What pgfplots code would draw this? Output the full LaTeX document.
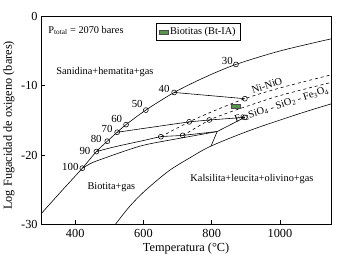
\documentclass[border=0pt]{standalone}
\usepackage{fontspec}
\setmainfont{Liberation Serif}
\usepackage{pgfplots}
\pgfplotsset{compat=1.18}
\definecolor{btgreen}{RGB}{88,150,78}
\begin{document}
\begin{tikzpicture}
\begin{axis}[
  name=ax,
  scale only axis, width=295pt, height=211pt,
  xmin=300, xmax=1150, ymin=-30, ymax=0,
  xtick={400,600,800,1000}, ytick={-30,-20,-10,0},
  tick align=inside, xtick pos=bottom, ytick pos=left,
  major tick length=4pt,
  axis line style={line width=1.1pt},
  tick style={line width=0.8pt, black},
  /pgf/number format/assume math mode=true,
  /pgf/number format/set thousands separator={},
  ticklabel style={font=\fontsize{12.5}{14}\selectfont},
  xticklabel style={yshift=-1.5pt},
  label style={font=\fontsize{12.5}{14}\selectfont},
  xlabel={Temperatura (°C)},
  ylabel={Log Fugacidad de oxigeno (bares)},
  xlabel style={yshift=1pt},
  ylabel style={yshift=0pt, xshift=-5pt},
  legend style={at={(0.396,0.970)}, anchor=north west, draw=black, line width=0.6pt,
    font=\fontsize{10.5}{12}\selectfont, inner sep=2.5pt},
  legend image code/.code={\draw[#1] (0pt,-1.8pt) rectangle (9pt,1.8pt);},
  every axis plot/.append style={line width=0.6pt, black},
]
% green biotite box
\addplot[draw=black!70, fill=btgreen, line width=0.5pt] coordinates {(857,-13.2) (883,-13.2) (883,-12.6) (857,-12.6)} -- cycle;
\addlegendentry{Biotitas (Bt-IA)}

% upper boundary (biotite composition curve)
\addplot[smooth, tension=0.5, forget plot] coordinates {
 (300,-28.5) (360,-25.2) (421,-21.9) (462,-19.5) (494,-18.0) (523,-16.7) (549,-15.6)
 (607,-13.5) (690,-10.95) (780,-8.75) (871,-6.9) (1000,-4.95) (1150,-3.2)};

% Kalsilita boundary
\addplot[smooth, tension=0.5, forget plot] coordinates {
 (518,-30) (560,-27.4) (606,-25.1) (674,-22.3) (736,-20.4) (798,-18.7) (914,-16.4) (1058,-14.0) (1150,-12.6)};

% 40 line
\addplot[forget plot] coordinates {(690,-10.95) (897,-11.85)};
% 70 line
\addplot[forget plot] coordinates {(523,-16.7) (734,-15.2) (793,-14.93) (897,-14.55)};
% 90 line
\addplot[smooth, tension=0.4, forget plot] coordinates {
 (462,-19.5) (500,-19.0) (539,-18.55) (600,-17.9) (651,-17.35) (715,-17.15) (816,-16.6)};
% 100 line
\addplot[smooth, tension=0.4, forget plot] coordinates {
 (421,-21.9) (450,-21.1) (491,-20.35) (540,-19.5) (587,-18.75) (626,-18.3) (715,-17.5) (816,-16.6)};
% junction lines
\addplot[forget plot] coordinates {(816,-16.6) (897,-14.55)};
\addplot[forget plot] coordinates {(816,-16.6) (798,-18.7)};

% Ni-NiO buffer
\addplot[dashed, smooth, forget plot] coordinates {
 (651,-17.35) (734,-15.2) (800,-13.75) (897,-11.85) (1000,-10.3) (1150,-8.4)};
% FMQ buffer
\addplot[dashed, smooth, forget plot] coordinates {
 (715,-17.2) (793,-14.95) (850,-13.85) (897,-13.05) (1000,-11.4) (1150,-9.5)};

% circles
\addplot[only marks, mark=o, mark size=2.5pt, mark options={line width=0.55pt}, forget plot] coordinates {
 (421,-21.9) (462,-19.5) (494,-18.0) (523,-16.7) (549,-15.6) (607,-13.5) (690,-10.95) (871,-6.9)
 (897,-11.85) (734,-15.2) (793,-14.93) (897,-14.55) (651,-17.35) (715,-17.15)};

% number labels
\begin{scope}[every node/.style={font=\fontsize{11}{12}\selectfont, inner sep=0pt, anchor=east}]
\node at (axis cs:862,-6.45) {30};
\node at (axis cs:677,-10.4) {40};
\node at (axis cs:598,-12.65) {50};
\node at (axis cs:538,-14.75) {60};
\node at (axis cs:510,-16.2) {70};
\node at (axis cs:478,-17.7) {80};
\node at (axis cs:445,-19.4) {90};
\node at (axis cs:410,-21.7) {100};
\end{scope}

% field labels
\begin{scope}[every node/.style={font=\fontsize{10.5}{12}\selectfont, inner sep=0pt}]
\node at (axis cs:487,-8.05) {Sanidina+hematita+gas};
\node at (axis cs:506,-24.7) {Biotita+gas};
\node at (axis cs:918,-23.5) {Kalsilita+leucita+olivino+gas};
\node[anchor=west] at (axis cs:321,-2.0) {P\textsubscript{total} = 2070 bares};
\node[rotate=19] at (axis cs:962,-9.95) {Ni-NiO};
\node[rotate=18] at (axis cs:1005,-12.75) {Fe\textsubscript{2}SiO\textsubscript{4} - SiO\textsubscript{2} - Fe\textsubscript{3}O\textsubscript{4}};
\end{scope}
\end{axis}
\path[use as bounding box] ([xshift=-36pt,yshift=-45pt]ax.south west) rectangle ([xshift=10pt,yshift=17pt]ax.north east);
\end{tikzpicture}
\end{document}
